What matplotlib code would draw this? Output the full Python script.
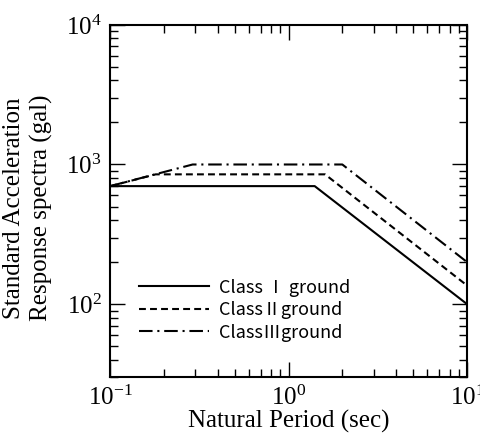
import numpy as np
import matplotlib
matplotlib.use('Agg')
import matplotlib.pyplot as plt
from matplotlib.ticker import LogLocator, NullFormatter

# breakpoints of the standard acceleration response spectra (gal)
period_1 = [0.1, 1.4, 10.0]
accel_1 = [700, 700, 100]
period_2 = [0.1, 0.18, 1.6, 10.0]
accel_2 = [700, 850, 850, 136]
period_3 = [0.1, 0.29, 2.0, 10.0]
accel_3 = [700, 1000, 1000, 200]
labels = ['Class \u2160 ground', 'Class\u2161ground', 'Class\u2162ground']

plt.rcParams['font.family'] = ['Liberation Serif']
plt.rcParams['mathtext.fontset'] = 'stix'

fig = plt.figure(figsize=(4.81, 4.36), dpi=100)
ax = fig.add_axes([0.229, 0.135, 0.742, 0.808])

ax.plot(period_1, accel_1, color='black', lw=1.5, ls='-', label=labels[0])
ax.plot(period_2, accel_2, color='black', lw=1.5, ls=(0, (3.3, 2.0)), label=labels[1])
ax.plot(period_3, accel_3, color='black', lw=1.5, ls=(0, (6.5, 2.3, 1.0, 2.3)), label=labels[2])

ax.set_xscale('log')
ax.set_yscale('log')
ax.set_xlim(0.1, 10)
ax.set_ylim(30, 1e4)

ax.xaxis.set_major_locator(LogLocator(base=10, numticks=10))
ax.yaxis.set_major_locator(LogLocator(base=10, numticks=10))
ax.xaxis.set_minor_locator(LogLocator(base=10, subs=np.arange(2, 10), numticks=20))
ax.yaxis.set_minor_locator(LogLocator(base=10, subs=np.arange(2, 10), numticks=20))
ax.xaxis.set_minor_formatter(NullFormatter())
ax.yaxis.set_minor_formatter(NullFormatter())

ax.tick_params(which='both', direction='in', top=True, right=True, labelsize=18, width=1)
ax.tick_params(which='major', length=11, pad=6)
ax.tick_params(which='minor', length=6)
for s in ax.spines.values():
    s.set_linewidth(1.5)

ax.set_xlabel('Natural Period (sec)', fontsize=18, labelpad=0)
ax.set_ylabel('Standard Acceleration\nResponse spectra (gal)', fontsize=18, linespacing=1.3)
ax.yaxis.set_label_coords(-0.16, 0.48)

leg = ax.legend(loc='lower left', bbox_to_anchor=(0.055, 0.075), frameon=False,
                prop={'family': ['Noto Sans CJK JP', 'DejaVu Sans'], 'size': 13},
                handlelength=3.9, handletextpad=0.55, labelspacing=0.25, borderpad=0)

fig.savefig('out.png', dpi=100)
